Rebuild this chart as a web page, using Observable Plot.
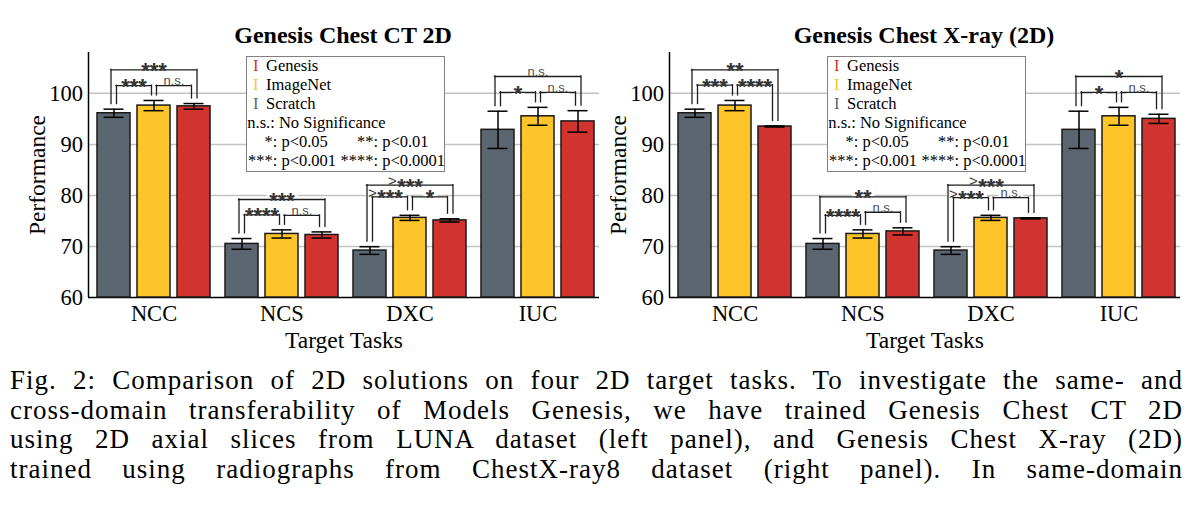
<!DOCTYPE html>
<html>
<head>
<meta charset="utf-8">
<script src="https://cdn.jsdelivr.net/npm/d3@7"></script>
<script src="https://cdn.jsdelivr.net/npm/@observablehq/plot@0.6"></script>
<style>
  body { margin: 0; background: #fff; }
  #fig { position: relative; width: 1196px; height: 512px; overflow: hidden; background: #fff;
         font-family: "Liberation Serif", "Times New Roman", serif; color: #000; }
  .panel { position: absolute; top: 0; width: 600px; height: 355px; }
  .panel svg { position: absolute; left: 0; top: 0; }
  .title { position: absolute; top: 22.6px; font-weight: bold; font-size: 24px; line-height: 24px;
           white-space: nowrap; transform: translateX(-50%); }
  .legend { position: absolute; top: 55.7px; width: 199px; height: 116px; border: 1px solid #808080;
            background: #fff; box-sizing: border-box; font-size: 16.5px; }
  .legend .row { position: absolute; height: 18.9px; line-height: 18.9px; white-space: pre; }
  .legend .ra { transform: translateX(-100%); }
  .caption { position: absolute; left: 10px; width: 1173px; font-size: 27px; line-height: 29.7px;
             letter-spacing: 1.0px; }
  .caption div { text-align: justify; text-align-last: justify; white-space: nowrap; }
</style>
</head>
<body>
<div id="fig"></div>
<script>
// ---------- data ----------
const tasks = ["NCC", "NCS", "DXC", "IUC"];
const models = ["Scratch", "ImageNet", "Genesis"];
const modelColors = ["#5b6670", "#fdc52a", "#d1332f"];
const yTicks = [60, 70, 80, 90, 100];
const yDomain = [60, 108];

// Genesis Chest CT 2D (left panel)
const ctScratch     = [96.1, 70.5, 69.2, 92.85];
const ctScratchErr  = [0.8, 1.05, 0.75, 3.65];
const ctImageNet    = [97.6, 72.45, 75.6, 95.5];
const ctImageNetErr = [1.0, 0.8, 0.5, 1.75];
const ctGenesis     = [97.45, 72.25, 75.1, 94.5];
const ctGenesisErr  = [0.55, 0.6, 0.32, 2.1];

// Genesis Chest X-ray (2D) (right panel)
const xrScratch     = [96.1, 70.5, 69.2, 92.85];
const xrScratchErr  = [0.8, 1.05, 0.75, 3.65];
const xrImageNet    = [97.6, 72.45, 75.6, 95.5];
const xrImageNetErr = [1.0, 0.8, 0.5, 1.75];
const xrGenesis     = [93.5, 72.95, 75.5, 95.0];
const xrGenesisErr  = [0.1, 0.7, 0.1, 0.9];

// significance brackets: Scratch–ImageNet, ImageNet–Genesis, Scratch–Genesis
const pairs = [["Scratch", "ImageNet"], ["ImageNet", "Genesis"], ["Scratch", "Genesis"]];
const ctLevelSI = [101.5, 76.2, 79.7, 100.2];
const ctLevelIG = [101.5, 76.1, 79.7, 100.2];
const ctLevelSG = [104.6, 79.2, 82.0, 103.3];
const ctLabelSI = ["***", "****", ">***", "*"];
const ctLabelIG = ["n.s.", "n.s.", "*", "n.s."];
const ctLabelSG = ["***", "***", ">***", "n.s."];

const xrLevelSI = [101.6, 76.1, 79.55, 100.2];
const xrLevelIG = [101.6, 76.7, 79.55, 100.2];
const xrLevelSG = [104.6, 79.7, 82.0, 103.3];
const xrLabelSI = ["***", "****", ">***", "*"];
const xrLabelIG = ["****", "n.s.", "n.s.", "n.s."];
const xrLabelSG = ["**", "**", ">***", "*"];

const legendItems = ["Genesis", "ImageNet", "Scratch"];
const legendColors = ["#d1332f", "#fdc52a", "#5b6670"];
const legendNote = "n.s.: No Significance";
const legendSig = [["*:", " p<0.05", "**:", " p<0.01"], ["***:", " p<0.001", "****:", " p<0.0001"]];

const captionLines = [
  "Fig. 2: Comparison of 2D solutions on four 2D target tasks. To investigate the same- and",
  "cross-domain transferability of Models Genesis, we have trained Genesis Chest CT 2D",
  "using 2D axial slices from LUNA dataset (left panel), and Genesis Chest X-ray (2D)",
  "trained using radiographs from ChestX-ray8 dataset (right panel). In same-domain"
];

// ---------- layout ----------
const W = 600, H = 355, ML = 88, MR = 1, MT = 52, MB = 58;
const LEG_GAP = 1.0; // data units between error bar top and bracket leg
const serif = "Liberation Serif, Times New Roman, serif";
const sans = "Liberation Sans, Arial, sans-serif";
const fxOpt = {domain: tasks, paddingInner: 0.103, paddingOuter: 0.0366, align: 0.68, axis: null, label: null};
const xOpt = {domain: models, paddingInner: 0.183, paddingOuter: 0.02, axis: null};
const dims = {width: W, height: H, marginLeft: ML, marginRight: MR, marginTop: MT, marginBottom: MB};
const baseStyle = {background: "transparent", fontFamily: serif, fontSize: "22px", color: "#000", overflow: "visible"};
const STAR_SIZE = 22, STAR_ADV = 0.389; // bold sans asterisk advance (em)
const TICK_SIZE = 22.5;

const fig = document.getElementById("fig");

function buildPanel(left, title, means, errs, levels, labels) {
  const panel = document.createElement("div");
  panel.className = "panel";
  panel.style.left = left + "px";
  fig.appendChild(panel);

  const bars = tasks.flatMap((t, i) => models.map((m, j) => ({task: t, model: m, value: means[j][i], err: errs[j][i]})));
  const errTop = (t, m) => { const d = bars.find(b => b.task === t && b.model === m); return d.value + d.err; };
  const brackets = tasks.flatMap((t, i) => pairs.map(([a, b], k) => ({
    task: t, from: a, to: b, level: levels[k][i], label: labels[k][i], upper: k === 2
  })));
  const legs = brackets.flatMap(b => [
    {task: b.task, model: b.from, y1: errTop(b.task, b.from) + LEG_GAP, y2: b.level, upper: b.upper, side: "L"},
    {task: b.task, model: b.to, y1: errTop(b.task, b.to) + LEG_GAP, y2: b.level, upper: b.upper, side: "R"}
  ]);

  // base layer: grid, axis lines, y tick labels, axis titles
  const base = Plot.plot({
    ...dims, style: baseStyle,
    x: {domain: [0, 1], axis: null},
    y: {domain: yDomain, axis: null},
    marks: [
      Plot.ruleY(yTicks.filter(v => v > yDomain[0]), {stroke: "#c2c2c2", strokeWidth: 1.5}),
      Plot.ruleY([yDomain[0]], {stroke: "#000", strokeWidth: 1.5}),
      Plot.ruleX([0], {y1: yDomain[0], y2: yDomain[1], stroke: "#000", strokeWidth: 1.5}),
      Plot.text(yTicks, {y: d => d, text: d => String(d), frameAnchor: "left", textAnchor: "end",
                         dx: -5.5, fontFamily: serif, fontSize: TICK_SIZE, fill: "#000"}),
      Plot.text(["Performance"], {frameAnchor: "left", textAnchor: "middle", rotate: -90, dx: -51.5,
                                  fontFamily: serif, fontSize: 23.5, fill: "#000"}),
      Plot.text(["Target Tasks"], {frameAnchor: "bottom", textAnchor: "middle", lineAnchor: "bottom", dy: 50.7,
                                   fontFamily: serif, fontSize: 23.5, fill: "#000"})
    ]
  });
  panel.appendChild(base);

  // probe band geometry of the model scale
  const probe = Plot.plot({...dims, fx: fxOpt, x: xOpt, y: {domain: yDomain, axis: null},
    marks: [Plot.barY(bars, {fx: "task", x: "model", y1: yDomain[0], y2: "value"})]});
  const xs = probe.scale("x");
  const bw = xs.bandwidth;
  const step = (xs.apply ? xs.apply("ImageNet") - xs.apply("Scratch") : bw / (1 - 0.183));

  const line = {stroke: "#1e1e1e", strokeWidth: 1.3, strokeLinecap: "square"};
  const legMark = (upper, side, dx) => Plot.ruleX(legs.filter(d => d.upper === upper && d.side === side),
    {fx: "task", x: "model", y1: "y1", y2: "y2", dx, ...line});
  const hMark = (upper, inset) => Plot.ruleY(brackets.filter(d => d.upper === upper),
    {fx: "task", x1: "from", x2: "to", y: "level", insetLeft: inset, insetRight: inset, ...line});
  const starStyle = {fontFamily: sans, fontWeight: "bold", fontSize: STAR_SIZE, fill: "#333", dy: 8.5};
  const nsStyle = {fontFamily: sans, fontSize: 13, fill: "#505050", dy: -0.5};
  const gtStyle = {fontFamily: sans, fontSize: 15, fill: "#333", dy: 1, textAnchor: "end"};
  const starsOf = d => d.label.replace(">", "");
  const textMarks = (halo) => [true, false].flatMap(upper => {
    const baseDx = upper ? 0 : step / 2;
    const xAcc = upper ? (() => "ImageNet") : "from";
    const sel = brackets.filter(d => d.upper === upper);
    const haloOpt = halo ? {fill: "white", stroke: "white", strokeWidth: 6} : {};
    const common = {fx: "task", x: xAcc, y: "level", lineAnchor: "bottom"};
    return [
      Plot.text(sel.filter(d => d.label === "n.s."), {...common, text: "label", textAnchor: "middle",
        ...nsStyle, dx: baseDx, ...haloOpt}),
      Plot.text(sel.filter(d => d.label !== "n.s."), {...common, text: starsOf, textAnchor: "middle",
        ...starStyle, dx: baseDx, ...haloOpt}),
      Plot.text(sel.filter(d => d.label.startsWith(">")), {...common, text: () => ">",
        ...gtStyle, dx: baseDx - starsOf({label: ">***"}).length * STAR_ADV * STAR_SIZE / 2 - 0.5, ...haloOpt})
    ];
  });

  const chart = Plot.plot({
    ...dims, style: baseStyle,
    fx: fxOpt, x: xOpt,
    y: {domain: yDomain, axis: null},
    color: {domain: models, range: modelColors},
    marks: [
      Plot.barY(bars, {fx: "task", x: "model", y1: yDomain[0], y2: "value", fill: "model",
                       stroke: "#1a1a1a", strokeWidth: 1.5}),
      Plot.ruleX(bars, {fx: "task", x: "model", y1: d => d.value - d.err, y2: d => d.value + d.err,
                        stroke: "#000", strokeWidth: 1.5}),
      Plot.tickY(bars, {fx: "task", x: "model", y: d => d.value + d.err, insetLeft: 6.5, insetRight: 6.5,
                        stroke: "#000", strokeWidth: 1.5}),
      Plot.tickY(bars, {fx: "task", x: "model", y: d => d.value - d.err, insetLeft: 6.5, insetRight: 6.5,
                        stroke: "#000", strokeWidth: 1.5}),
      // task tick labels, centred under each group
      Plot.text(tasks, {fx: d => d, x: () => "ImageNet", y: () => yDomain[0], text: d => d,
                        textAnchor: "middle", lineAnchor: "top", dy: 7.5, fontFamily: serif, fontSize: TICK_SIZE, fill: "#000"}),
      ...textMarks(true),
      legMark(true, "L", -3), legMark(true, "R", 3),
      legMark(false, "L", 2.5), legMark(false, "R", -2.5),
      hMark(true, bw / 2 - 3), hMark(false, bw / 2 + 2.5),
      ...textMarks(false)
    ]
  });
  panel.appendChild(chart);

  // title
  const t = document.createElement("div");
  t.className = "title";
  t.style.left = "343px";
  t.textContent = title;
  panel.appendChild(t);

  // legend
  const lg = document.createElement("div");
  lg.className = "legend";
  lg.style.left = "246px";
  const rowTop = i => (0.6 + i * 18.9) + "px";
  legendItems.forEach((name, i) => {
    const sym = document.createElement("div");
    sym.className = "row"; sym.style.top = rowTop(i); sym.style.left = "6px";
    sym.style.color = legendColors[i]; sym.textContent = "I";
    const lab = document.createElement("div");
    lab.className = "row"; lab.style.top = rowTop(i); lab.style.left = "19px";
    lab.textContent = name;
    lg.appendChild(sym); lg.appendChild(lab);
  });
  const note = document.createElement("div");
  note.className = "row"; note.style.top = rowTop(3); note.style.left = "0.3px";
  note.textContent = legendNote;
  lg.appendChild(note);
  legendSig.forEach((r, k) => {
    [[r[0], 30.3, true], [r[1], 30.3, false], [r[2], 131, true], [r[3], 131, false]].forEach(([txt, x, ra]) => {
      const s = document.createElement("div");
      s.className = "row" + (ra ? " ra" : "");
      s.style.top = rowTop(4 + k); s.style.left = x + "px";
      s.textContent = txt;
      lg.appendChild(s);
    });
  });
  panel.appendChild(lg);
}

buildPanel(0, "Genesis Chest CT 2D",
  [ctScratch, ctImageNet, ctGenesis], [ctScratchErr, ctImageNetErr, ctGenesisErr],
  [ctLevelSI, ctLevelIG, ctLevelSG], [ctLabelSI, ctLabelIG, ctLabelSG]);
buildPanel(581, "Genesis Chest X-ray (2D)",
  [xrScratch, xrImageNet, xrGenesis], [xrScratchErr, xrImageNetErr, xrGenesisErr],
  [xrLevelSI, xrLevelIG, xrLevelSG], [xrLabelSI, xrLabelIG, xrLabelSG]);

// caption
const cap = document.createElement("div");
cap.className = "caption";
cap.style.top = "366px";
captionLines.forEach(l => { const d = document.createElement("div"); d.textContent = l; cap.appendChild(d); });
fig.appendChild(cap);
</script>
</body>
</html>
